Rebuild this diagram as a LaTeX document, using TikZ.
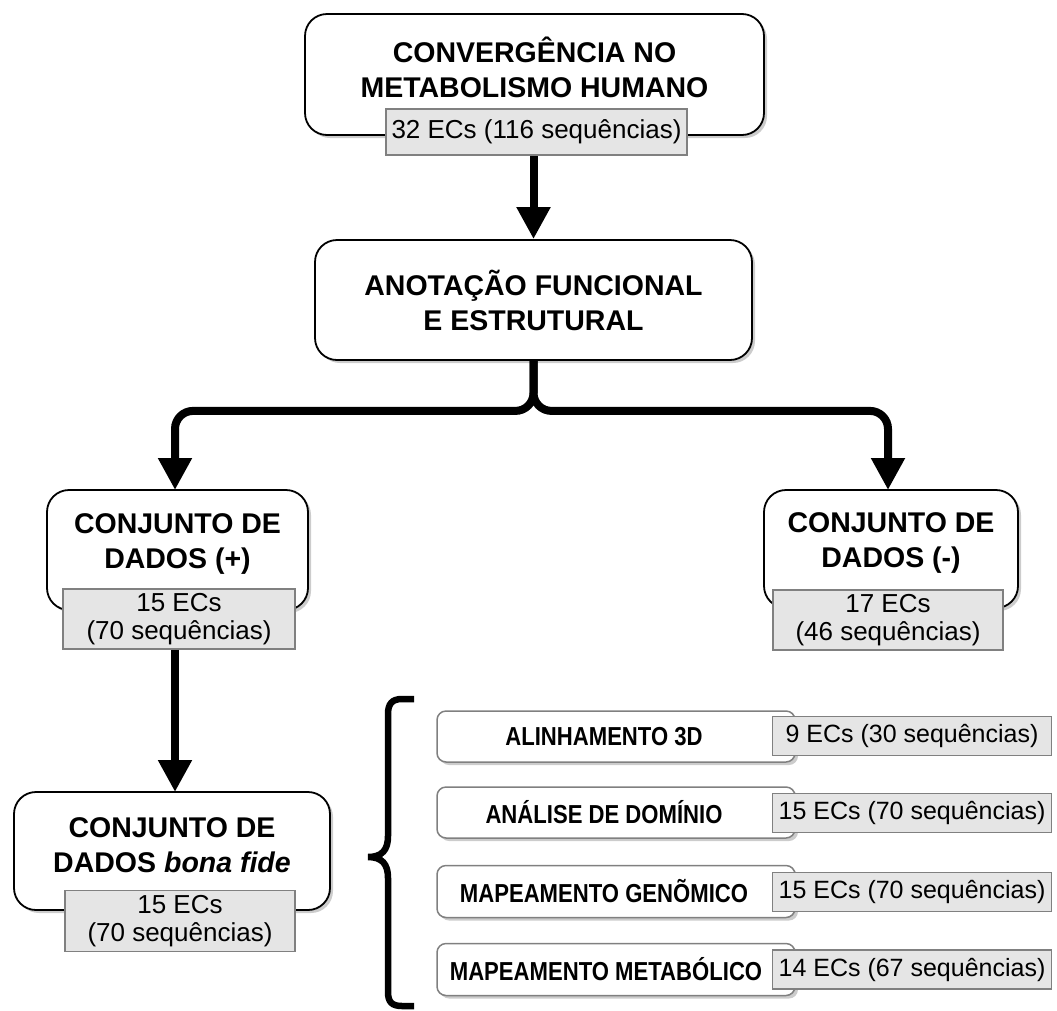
\documentclass[tikz,border=0pt]{standalone}
\usepackage{fontspec}
\setmainfont{Liberation Sans}
\newfontfamily\narrowbf[FakeStretch=0.85]{Liberation Sans Bold}
\usetikzlibrary{arrows.meta,shadows,calc}
\begin{document}
\begin{tikzpicture}[x=1pt,y=-1pt,
  shad/.style={drop shadow={shadow xshift=3pt,shadow yshift=-3pt,fill=black!40}},
  bigbox/.style={draw=black,line width=1.8pt,rounded corners=22pt,fill=white,shad,inner sep=0pt},
  smallbox/.style={draw=black!50,line width=1.5pt,rounded corners=9pt,fill=white,shad,minimum width=358pt,minimum height=51pt,inner sep=0pt},
  title/.style={font=\fontsize{28.5}{35}\selectfont\bfseries,align=center,inner sep=0pt},
  lab/.style={draw=black!50,line width=1.5pt,fill=black!10,font=\fontsize{26}{28}\selectfont,align=center,inner sep=0pt},
  slab/.style={lab,font=\fontsize{25}{28}\selectfont,minimum width=279pt,minimum height=39pt},
  sbtext/.style={font=\fontsize{26}{28}\selectfont\narrowbf,inner sep=0pt},
  arr/.style={line width=8pt,-{Triangle[width=32pt,length=32pt]}},
  bracestyle/.style={line width=6.5pt,line join=miter}
]
\useasboundingbox (0,0) rectangle (1057,1010);

% top box
\node[bigbox,minimum width=459pt,minimum height=121pt] (b1) at (534.5,74.5) {};
\node[title] (t1) at (534.5,67) {CONVERGÊNCIA NO\\METABOLISMO HUMANO};
\node[lab,minimum width=301pt,minimum height=46pt] (l1) at (536.5,132) {32 ECs (116 sequências)};

% second box
\node[bigbox,minimum width=437pt,minimum height=120pt] (b2) at (533.5,300) {};
\node[title] (t2) at (533.5,300) {ANOTAÇÃO FUNCIONAL\\E ESTRUTURAL};

\draw[arr] (l1.south -| b2.north) -- (b2.north);

% data sets
\node[bigbox,minimum width=261pt,minimum height=120pt] (b3) at (177.5,550) {};
\node[title] (t3) at (177.5,544) {CONJUNTO DE\\DADOS (+)};
\node[lab,minimum width=232pt,minimum height=60pt] (l3) at (179,619) {15 ECs\\(70 sequências)};

\node[bigbox,minimum width=254pt,minimum height=118pt] (b4) at (891,549) {};
\node[title] (t4) at (891,543) {CONJUNTO DE\\DADOS (-)};
\node[lab,minimum width=230pt,minimum height=60pt] (l4) at (888,620) {17 ECs\\(46 sequências)};

\draw[arr,rounded corners=18pt] (b2.south) -- ++(0,50) -| (175,490);
\draw[arr,rounded corners=18pt] (b2.south) -- ++(0,50) -| (888,490);

% bona fide
\node[bigbox,minimum width=316pt,minimum height=118pt] (b5) at (172,851) {};
\node[title] (t5) at (172,845) {CONJUNTO DE\\DADOS \textit{bona fide}};
\node[lab,minimum width=230pt,minimum height=61pt] (l5) at (180,921) {15 ECs\\(70 sequências)};

\draw[arr] (l3.south -| 175,0) -- (175,792);

% brace
\draw[bracestyle] (414,699) -- (402,699) .. controls (392,699) and (388,704) .. (388,714) -- (388,836) .. controls (388,850) and (382,857) .. (368,857) .. controls (382,857) and (388,864) .. (388,878) -- (388,992) .. controls (388,1002) and (392,1006) .. (402,1006) -- (414,1006);

% small boxes
\node[smallbox] (s1) at (616,736.5) {};
\node[sbtext] (st1) at (604,736.5) {ALINHAMENTO 3D};
\node[slab] (sl1) at (912,736) {9 ECs (30 sequências)};

\node[smallbox] (s2) at (616,812.5) {};
\node[sbtext] (st2) at (604,812.5) {ANÁLISE DE DOMÍNIO};
\node[slab] (sl2) at (912,813) {15 ECs (70 sequências)};

\node[smallbox,minimum height=52pt] (s3) at (616,891.5) {};
\node[sbtext] (st3) at (604,891.5) {MAPEAMENTO GENÕMICO};
\node[slab] (sl3) at (912,892) {15 ECs (70 sequências)};

\node[smallbox,minimum height=52pt] (s4) at (616,969.5) {};
\node[sbtext] (st4) at (606,969.5) {MAPEAMENTO METABÓLICO};
\node[slab] (sl4) at (912,969.5) {14 ECs (67 sequências)};
\end{tikzpicture}
\end{document}
